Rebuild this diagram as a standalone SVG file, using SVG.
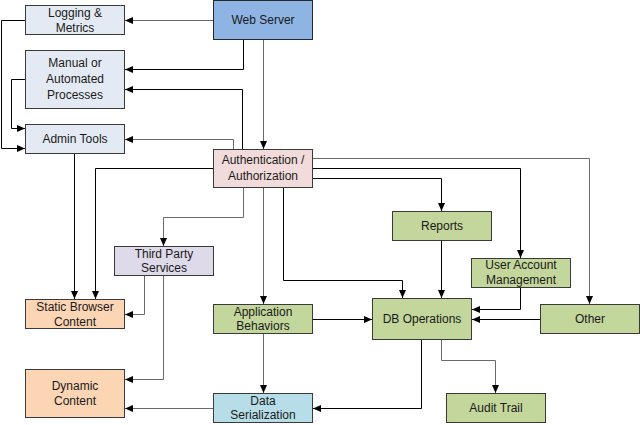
<svg xmlns="http://www.w3.org/2000/svg" width="640" height="425" viewBox="0 0 640 425">
<style>
  .box { stroke: #3a3a3a; stroke-width: 1; }
  .light { fill: #E4EAF3; }
  .ws { fill: #8DB4E2; stroke: #262626; }
  .auth { fill: #F2DCDB; }
  .green { fill: #C3D69B; }
  .purple { fill: #DFDAEA; }
  .orange { fill: #FCD5B4; }
  .cyan { fill: #B7DEE8; }
  text { font-family: "Liberation Sans", Arial, sans-serif; font-size: 12px; fill: #1a1a1a; text-anchor: middle; }
  .c { fill: none; stroke-width: 1; marker-end: url(#arr); }
  .k { stroke: #000000; }
  .g { stroke: #6a6a6a; }
</style>
<defs>
  <marker id="arr" markerUnits="userSpaceOnUse" markerWidth="9" markerHeight="8" refX="8" refY="3.5" orient="auto">
    <path d="M0,0 L8,3.5 L0,7 z" fill="#000"/>
  </marker>
</defs>
<rect width="640" height="425" fill="#ffffff"/>

<g id="connectors">
  <path class="c g" d="M213,20.5 H125"/>
  <path class="c k" d="M243.5,40 V69.5 H125"/>
  <path class="c g" d="M263.5,40 V149"/>
  <path class="c k" d="M242.5,149 V89.5 H125"/>
  <path class="c g" d="M233.5,149 V139.5 H125"/>
  <path class="c k" d="M25,20.5 H1.5 V148.5 H25"/>
  <path class="c k" d="M25,79.5 H11.5 V128.5 H25"/>
  <path class="c k" d="M74.5,154 V299"/>
  <path class="c k" d="M213,168.5 H95.5 V299"/>
  <path class="c g" d="M243.5,188 V217.5 H163.5 V246"/>
  <path class="c g" d="M144.5,276 V314.5 H125"/>
  <path class="c g" d="M163.5,276 V379.5 H125"/>
  <path class="c g" d="M263.5,188 V304"/>
  <path class="c k" d="M283.5,188 V280.5 H402.5 V298"/>
  <path class="c k" d="M313,178.5 H441.5 V211"/>
  <path class="c k" d="M313,168.5 H520.5 V258"/>
  <path class="c g" d="M313,158.5 H589.5 V304"/>
  <path class="c k" d="M441.5,241 V298"/>
  <path class="c k" d="M520.5,288 V309.5 H472"/>
  <path class="c k" d="M540,319.5 H472"/>
  <path class="c k" d="M313,319.5 H372"/>
  <path class="c g" d="M263.5,334 V393"/>
  <path class="c k" d="M421.5,340 V408.5 H313"/>
  <path class="c g" d="M441.5,340 V360.5 H495.5 V393"/>
  <path class="c g" d="M213,408.5 H125"/>
</g>

<g id="logging">
  <rect class="box light" x="25.5" y="5.5" width="99" height="29"/>
  <text x="75" y="17">Logging &amp;</text>
  <text x="75" y="32">Metrics</text>
</g>
<g id="webserver">
  <rect class="box ws" x="213.5" y="0.5" width="99" height="39"/>
  <text x="263" y="24">Web Server</text>
</g>
<g id="manual">
  <rect class="box light" x="25.5" y="50.5" width="99" height="58"/>
  <text x="75" y="67">Manual or</text>
  <text x="75" y="83">Automated</text>
  <text x="75" y="99">Processes</text>
</g>
<g id="admin">
  <rect class="box light" x="25.5" y="124.5" width="99" height="29"/>
  <text x="75" y="143">Admin Tools</text>
</g>
<g id="auth">
  <rect class="box auth" x="213.5" y="149.5" width="99" height="38"/>
  <text x="263" y="164">Authentication /</text>
  <text x="263" y="180">Authorization</text>
</g>
<g id="reports">
  <rect class="box green" x="392.5" y="211.5" width="99" height="29"/>
  <text x="442" y="230">Reports</text>
</g>
<g id="useraccount">
  <rect class="box green" x="471.5" y="258.5" width="99" height="29"/>
  <text x="521" y="269">User Account</text>
  <text x="521" y="284">Management</text>
</g>
<g id="thirdparty">
  <rect class="box purple" x="114.5" y="246.5" width="99" height="29"/>
  <text x="164" y="258">Third Party</text>
  <text x="164" y="272">Services</text>
</g>
<g id="static">
  <rect class="box orange" x="25.5" y="299.5" width="99" height="29"/>
  <text x="75" y="311">Static Browser</text>
  <text x="75" y="326">Content</text>
</g>
<g id="dynamic">
  <rect class="box orange" x="25.5" y="369.5" width="99" height="48"/>
  <text x="75" y="390">Dynamic</text>
  <text x="75" y="405">Content</text>
</g>
<g id="appbehaviors">
  <rect class="box green" x="213.5" y="304.5" width="99" height="29"/>
  <text x="263" y="316">Application</text>
  <text x="263" y="330">Behaviors</text>
</g>
<g id="dboperations">
  <rect class="box green" x="372.5" y="298.5" width="99" height="41"/>
  <text x="422" y="323">DB Operations</text>
</g>
<g id="other">
  <rect class="box green" x="540.5" y="304.5" width="99" height="29"/>
  <text x="590" y="323">Other</text>
</g>
<g id="dataserialization">
  <rect class="box cyan" x="213.5" y="393.5" width="99" height="29"/>
  <text x="263" y="405">Data</text>
  <text x="263" y="419">Serialization</text>
</g>
<g id="audittrail">
  <rect class="box green" x="446.5" y="393.5" width="99" height="29"/>
  <text x="496" y="412">Audit Trail</text>
</g>
</svg>
